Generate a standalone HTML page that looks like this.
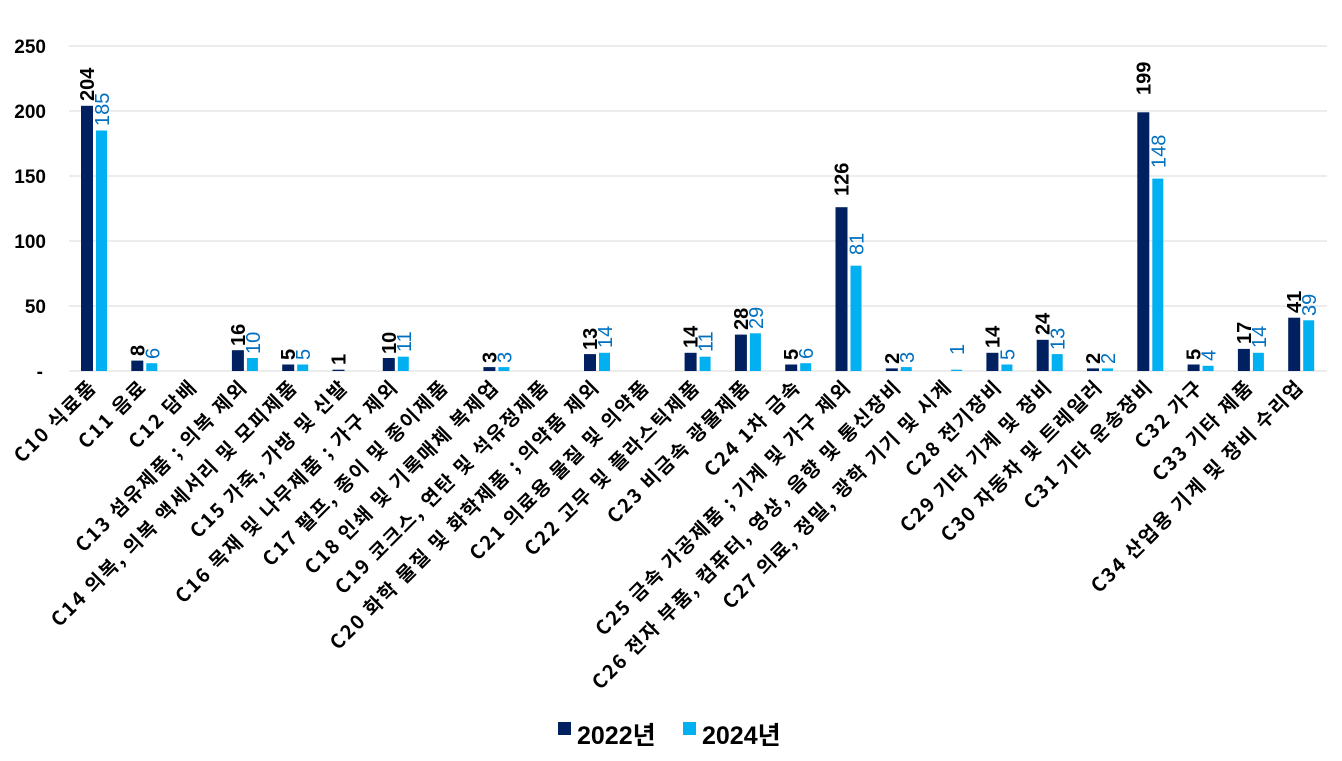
<!DOCTYPE html>
<html><head><meta charset="utf-8"><style>
html,body{margin:0;padding:0;background:#fff;}
svg{display:block;font-family:"Liberation Sans","Noto Sans CJK KR",sans-serif;}
.d{fill:#002060}.l{fill:#00b0f0}
.vd{font-size:20px;font-weight:bold;fill:#000}
.vl{font-size:20px;fill:#0070c0}
.c{font-size:19.5px;font-weight:bold;fill:#000;letter-spacing:1.9px;font-family:"Noto Sans CJK KR",sans-serif}
.y{font-size:19px;font-weight:bold;fill:#000}
</style></head><body>
<svg width="1342" height="761" viewBox="0 0 1342 761">
<g stroke="#d9d9d9" stroke-width="1">
<line x1="69" x2="1327" y1="46" y2="46"/><line x1="69" x2="1327" y1="111" y2="111"/><line x1="69" x2="1327" y1="176" y2="176"/><line x1="69" x2="1327" y1="241" y2="241"/><line x1="69" x2="1327" y1="306" y2="306"/><line x1="69" x2="1327" y1="371" y2="371"/>
</g>
<g class="y" text-anchor="end">
<text x="46" y="53">250</text><text x="46" y="118">200</text><text x="46" y="183">150</text><text x="46" y="248">100</text><text x="46" y="313">50</text><text x="43" y="378">-</text>
</g>

<g transform="translate(94,0)"><rect class="d" x="-13" y="105.8" width="12" height="265.2"/><rect class="l" x="2" y="130.5" width="11" height="240.5"/>
<text class="vd" transform="translate(0,101) rotate(-90)">204</text><text class="vl" transform="translate(15,126) rotate(-90)">185</text>
<text class="c" text-anchor="end" transform="translate(4,388) rotate(-45)">C10 식료품</text></g>

<g transform="translate(144.3,0)"><rect class="d" x="-13" y="360.6" width="12" height="10.4"/><rect class="l" x="2" y="363.2" width="11" height="7.8"/>
<text class="vd" transform="translate(0,356) rotate(-90)">8</text><text class="vl" transform="translate(15,359) rotate(-90)">6</text>
<text class="c" text-anchor="end" transform="translate(4,388) rotate(-45)">C11 음료</text></g>

<g transform="translate(194.6,0)">
<text class="c" text-anchor="end" transform="translate(4,388) rotate(-45)">C12 담배</text></g>

<g transform="translate(244.9,0)"><rect class="d" x="-13" y="350.2" width="12" height="20.8"/><rect class="l" x="2" y="358" width="11" height="13"/>
<text class="vd" transform="translate(0,346) rotate(-90)">16</text><text class="vl" transform="translate(15,354) rotate(-90)">10</text>
<text class="c" text-anchor="end" transform="translate(4,388) rotate(-45)">C13 섬유제품 ; 의복 제외</text></g>

<g transform="translate(295.2,0)"><rect class="d" x="-13" y="364.5" width="12" height="6.5"/><rect class="l" x="2" y="364.5" width="11" height="6.5"/>
<text class="vd" transform="translate(0,360) rotate(-90)">5</text><text class="vl" transform="translate(15,360) rotate(-90)">5</text>
<text class="c" text-anchor="end" transform="translate(4,388) rotate(-45)">C14 의복, 의복 액세서리 및 모피제품</text></g>

<g transform="translate(345.5,0)"><rect class="d" x="-13" y="369.7" width="12" height="1.3"/>
<text class="vd" transform="translate(0,365) rotate(-90)">1</text>
<text class="c" text-anchor="end" transform="translate(4,388) rotate(-45)">C15 가죽, 가방 및 신발</text></g>

<g transform="translate(395.8,0)"><rect class="d" x="-13" y="358" width="12" height="13"/><rect class="l" x="2" y="356.7" width="11" height="14.3"/>
<text class="vd" transform="translate(0,354) rotate(-90)">10</text><text class="vl" transform="translate(15,352) rotate(-90)">11</text>
<text class="c" text-anchor="end" transform="translate(4,388) rotate(-45)">C16 목재 및 나무제품 ; 가구 제외</text></g>

<g transform="translate(446.1,0)">
<text class="c" text-anchor="end" transform="translate(4,388) rotate(-45)">C17 펄프, 종이 및 종이제품</text></g>

<g transform="translate(496.4,0)"><rect class="d" x="-13" y="367.1" width="12" height="3.9"/><rect class="l" x="2" y="367.1" width="11" height="3.9"/>
<text class="vd" transform="translate(0,363) rotate(-90)">3</text><text class="vl" transform="translate(15,363) rotate(-90)">3</text>
<text class="c" text-anchor="end" transform="translate(4,388) rotate(-45)">C18 인쇄 및 기록매체 복제업</text></g>

<g transform="translate(546.7,0)">
<text class="c" text-anchor="end" transform="translate(4,388) rotate(-45)">C19 코크스, 연탄 및 석유정제품</text></g>

<g transform="translate(597,0)"><rect class="d" x="-13" y="354.1" width="12" height="16.9"/><rect class="l" x="2" y="352.8" width="11" height="18.2"/>
<text class="vd" transform="translate(0,350) rotate(-90)">13</text><text class="vl" transform="translate(15,348) rotate(-90)">14</text>
<text class="c" text-anchor="end" transform="translate(4,388) rotate(-45)">C20 화학 물질 및 화학제품 ; 의약품 제외</text></g>

<g transform="translate(647.3,0)">
<text class="c" text-anchor="end" transform="translate(4,388) rotate(-45)">C21 의료용 물질 및 의약품</text></g>

<g transform="translate(697.6,0)"><rect class="d" x="-13" y="352.8" width="12" height="18.2"/><rect class="l" x="2" y="356.7" width="11" height="14.3"/>
<text class="vd" transform="translate(0,348) rotate(-90)">14</text><text class="vl" transform="translate(15,352) rotate(-90)">11</text>
<text class="c" text-anchor="end" transform="translate(4,388) rotate(-45)">C22 고무 및 플라스틱제품</text></g>

<g transform="translate(747.9,0)"><rect class="d" x="-13" y="334.6" width="12" height="36.4"/><rect class="l" x="2" y="333.3" width="11" height="37.7"/>
<text class="vd" transform="translate(0,330) rotate(-90)">28</text><text class="vl" transform="translate(15,329) rotate(-90)">29</text>
<text class="c" text-anchor="end" transform="translate(4,388) rotate(-45)">C23 비금속 광물제품</text></g>

<g transform="translate(798.2,0)"><rect class="d" x="-13" y="364.5" width="12" height="6.5"/><rect class="l" x="2" y="363.2" width="11" height="7.8"/>
<text class="vd" transform="translate(0,360) rotate(-90)">5</text><text class="vl" transform="translate(15,359) rotate(-90)">6</text>
<text class="c" text-anchor="end" transform="translate(4,388) rotate(-45)">C24 1차 금속</text></g>

<g transform="translate(848.5,0)"><rect class="d" x="-13" y="207.2" width="12" height="163.8"/><rect class="l" x="2" y="265.7" width="11" height="105.3"/>
<text class="vd" transform="translate(0,196) rotate(-90)">126</text><text class="vl" transform="translate(15,255) rotate(-90)">81</text>
<text class="c" text-anchor="end" transform="translate(4,388) rotate(-45)">C25 금속 가공제품 ; 기계 및 가구 제외</text></g>

<g transform="translate(898.8,0)"><rect class="d" x="-13" y="368.4" width="12" height="2.6"/><rect class="l" x="2" y="367.1" width="11" height="3.9"/>
<text class="vd" transform="translate(0,364) rotate(-90)">2</text><text class="vl" transform="translate(15,363) rotate(-90)">3</text>
<text class="c" text-anchor="end" transform="translate(4,388) rotate(-45)">C26 전자 부품, 컴퓨터, 영상, 음향 및 통신장비</text></g>

<g transform="translate(949.1,0)"><rect class="l" x="2" y="369.7" width="11" height="1.3"/>
<text class="vl" transform="translate(15,355) rotate(-90)">1</text>
<text class="c" text-anchor="end" transform="translate(4,388) rotate(-45)">C27 의료, 정밀, 광학 기기 및 시계</text></g>

<g transform="translate(999.4,0)"><rect class="d" x="-13" y="352.8" width="12" height="18.2"/><rect class="l" x="2" y="364.5" width="11" height="6.5"/>
<text class="vd" transform="translate(0,348) rotate(-90)">14</text><text class="vl" transform="translate(15,360) rotate(-90)">5</text>
<text class="c" text-anchor="end" transform="translate(4,388) rotate(-45)">C28 전기장비</text></g>

<g transform="translate(1049.7,0)"><rect class="d" x="-13" y="339.8" width="12" height="31.2"/><rect class="l" x="2" y="354.1" width="11" height="16.9"/>
<text class="vd" transform="translate(0,335) rotate(-90)">24</text><text class="vl" transform="translate(15,350) rotate(-90)">13</text>
<text class="c" text-anchor="end" transform="translate(4,388) rotate(-45)">C29 기타 기계 및 장비</text></g>

<g transform="translate(1100,0)"><rect class="d" x="-13" y="368.4" width="12" height="2.6"/><rect class="l" x="2" y="368.4" width="11" height="2.6"/>
<text class="vd" transform="translate(0,364) rotate(-90)">2</text><text class="vl" transform="translate(15,364) rotate(-90)">2</text>
<text class="c" text-anchor="end" transform="translate(4,388) rotate(-45)">C30 자동차 및 트레일러</text></g>

<g transform="translate(1150.3,0)"><rect class="d" x="-13" y="112.3" width="12" height="258.7"/><rect class="l" x="2" y="178.6" width="11" height="192.4"/>
<text class="vd" transform="translate(0,95) rotate(-90)">199</text><text class="vl" transform="translate(15,168) rotate(-90)">148</text>
<text class="c" text-anchor="end" transform="translate(4,388) rotate(-45)">C31 기타 운송장비</text></g>

<g transform="translate(1200.6,0)"><rect class="d" x="-13" y="364.5" width="12" height="6.5"/><rect class="l" x="2" y="365.8" width="11" height="5.2"/>
<text class="vd" transform="translate(0,360) rotate(-90)">5</text><text class="vl" transform="translate(15,361) rotate(-90)">4</text>
<text class="c" text-anchor="end" transform="translate(4,388) rotate(-45)">C32 가구</text></g>

<g transform="translate(1250.9,0)"><rect class="d" x="-13" y="348.9" width="12" height="22.1"/><rect class="l" x="2" y="352.8" width="11" height="18.2"/>
<text class="vd" transform="translate(0,344) rotate(-90)">17</text><text class="vl" transform="translate(15,348) rotate(-90)">14</text>
<text class="c" text-anchor="end" transform="translate(4,388) rotate(-45)">C33 기타 제품</text></g>

<g transform="translate(1301.2,0)"><rect class="d" x="-13" y="317.7" width="12" height="53.3"/><rect class="l" x="2" y="320.3" width="11" height="50.7"/>
<text class="vd" transform="translate(0,313) rotate(-90)">41</text><text class="vl" transform="translate(15,316) rotate(-90)">39</text>
<text class="c" text-anchor="end" transform="translate(4,388) rotate(-45)">C34 산업용 기계 및 장비 수리업</text></g>

<rect class="d" x="558" y="722" width="13" height="13"/>
<text x="577" y="744" style="font-size:25px;font-weight:bold">2022년</text>
<rect class="l" x="683" y="722" width="13" height="13"/>
<text x="702" y="744" style="font-size:25px;font-weight:bold">2024년</text>
</svg>
</body></html>
